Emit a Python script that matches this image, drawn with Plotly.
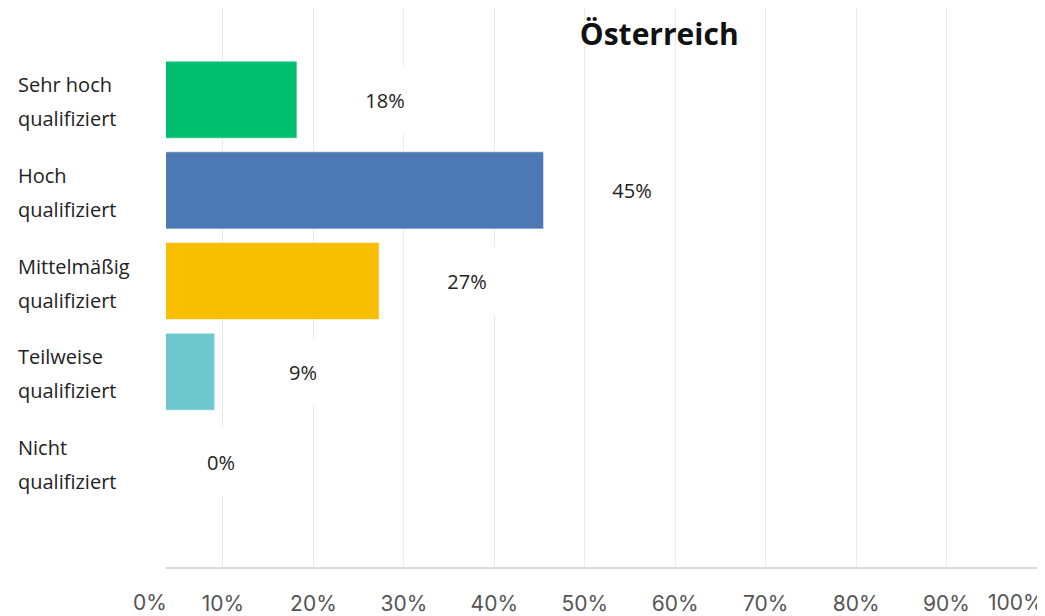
import plotly.graph_objects as go

# survey answers, top to bottom
categories = ["Sehr hoch qualifiziert", "Hoch qualifiziert", "Mittelmäßig qualifiziert",
              "Teilweise qualifiziert", "Nicht qualifiziert"]
label_line1 = ["Sehr hoch", "Hoch", "Mittelmäßig", "Teilweise", "Nicht"]
label_line2 = ["qualifiziert", "qualifiziert", "qualifiziert", "qualifiziert", "qualifiziert"]
shares = [0.1818, 0.4545, 0.2727, 0.0909, 0.0]
colors = ["#00BF6F", "#4C79B3", "#F8BE00", "#6CC8CC", "#9E9E9E"]

tick_vals = [0.1, 0.2, 0.3, 0.4, 0.5, 0.6, 0.7, 0.8, 0.9, 1.0]
tick_text = ["10%", "20%", "30%", "40%", "50%", "60%", "70%", "80%", "90%", ""]
# outer tick labels sit pulled inwards, as in the source picture
edge_ticks = [(0.0, "0%", -16), (1.0, "100%", -21)]

title = "Österreich"

x_lo, x_hi = 0.037, 1.0


def to_paper(v):
    return (v - x_lo) / (x_hi - x_lo)


fig = go.Figure()
fig.add_trace(go.Bar(
    x=shares, y=categories, orientation="h",
    marker=dict(color=colors, line=dict(color="rgba(255,255,255,0.6)", width=1)),
    width=0.85, hoverinfo="skip",
))

# data labels with white boxes (they cut through the gridlines)
for c, v in zip(categories, shares):
    fig.add_annotation(x=to_paper(v), y=c, xref="paper", yref="y", text=f"{v:.0%}",
                       showarrow=False, xshift=88, xanchor="center", yanchor="middle",
                       bgcolor="white", width=82, height=64,
                       font=dict(family="Open Sans", size=20, color="#222"))

# category labels, left aligned, two lines each
for c, l1, l2 in zip(categories, label_line1, label_line2):
    fig.add_annotation(x=-0.1722, y=c, xref="paper", yref="y", text=l1, showarrow=False,
                       xanchor="left", yanchor="middle", yshift=15,
                       font=dict(family="Open Sans", size=20, color="#222"))
    fig.add_annotation(x=-0.1722, y=c, xref="paper", yref="y", text=l2, showarrow=False,
                       xanchor="left", yanchor="middle", yshift=-19,
                       font=dict(family="Open Sans", size=20, color="#222"))

for v, t, dx in edge_ticks:
    fig.add_annotation(x=to_paper(v) if v > 0 else 0, y=0, xref="paper", yref="paper",
                       text=t, showarrow=False, xshift=dx, yshift=-35,
                       xanchor="center", yanchor="middle",
                       font=dict(family="Inter", size=21, color="#555"))

fig.update_layout(
    width=1037, height=608,
    margin=dict(l=158, r=8, t=0, b=47),
    paper_bgcolor="white", plot_bgcolor="white",
    showlegend=False,
    title=dict(text="<b>" + title + "</b>", x=0.628, y=0.9556, xanchor="center", yanchor="middle",
               xref="container", yref="container",
               font=dict(family="Open Sans", size=30, color="#111")),
)
fig.update_xaxes(range=[x_lo, x_hi], tickvals=tick_vals, ticktext=tick_text,
                 showgrid=True, gridcolor="#EBEBEB", gridwidth=1,
                 showline=True, linecolor="#D9D9D9", linewidth=2,
                 ticks="outside", ticklen=17, tickcolor="rgba(0,0,0,0)",
                 tickfont=dict(family="Inter", size=21, color="#555"),
                 zeroline=False, fixedrange=True)
fig.update_yaxes(range=[5.154, -1.011], showticklabels=False, showgrid=False,
                 zeroline=False, fixedrange=True)

fig.write_html("out.html")
